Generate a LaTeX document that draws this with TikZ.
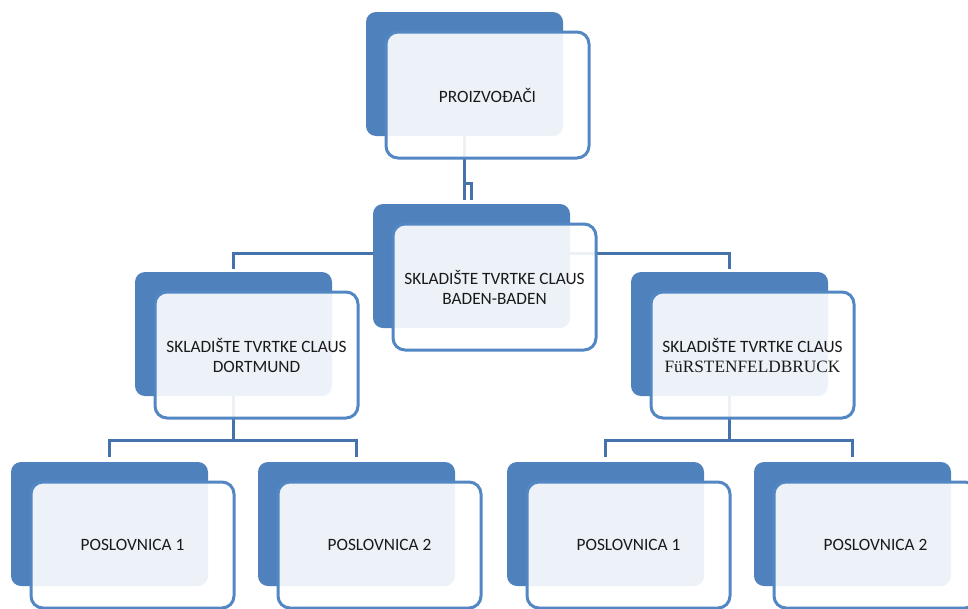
\documentclass[tikz,border=0pt]{standalone}
\usepackage{fontspec}
\setmainfont{Carlito}
\newfontfamily\serifpart{Liberation Serif}
\usetikzlibrary{calc}
\definecolor{backblue}{HTML}{4F81BD}
\definecolor{edgeblue}{HTML}{5287C4}
\definecolor{linkblue}{HTML}{4572AB}
\definecolor{txt}{HTML}{1A1A1A}
\pgfdeclarelayer{bg}
\pgfsetlayers{bg,main}
\tikzset{
  backbox/.style={fill=backblue, draw=none, rounded corners=10pt, minimum width=197pt, minimum height=124pt, inner sep=0pt, outer sep=0pt, anchor=north west},
  frontbox/.style={fill=white, fill opacity=0.9, text opacity=1, draw=edgeblue, line width=3pt, rounded corners=12pt, minimum width=203pt, minimum height=126pt, inner sep=0pt, outer sep=0pt, align=center, text=txt, font=\fontsize{17.3}{20}\selectfont, anchor=north west},
  link/.style={draw=linkblue, line width=3pt}
}
\newcommand\orgbox[4]{%
  \node[backbox] (#1back) at (#2,#3) {};
  \node[frontbox] (#1) at (#2+20,#3+20) {#4};
}
\begin{document}
\begin{tikzpicture}[x=1pt,y=-1pt]
\useasboundingbox (0,0) rectangle (968,608);
\orgbox{A}{366}{12}{PROIZVOĐAČI}
\orgbox{B}{373}{204}{SKLADIŠTE TVRTKE CLAUS\\BADEN-BADEN}
\orgbox{C}{135}{272}{SKLADIŠTE TVRTKE CLAUS\\DORTMUND}
\orgbox{D}{631}{272}{SKLADIŠTE TVRTKE CLAUS\\{\serifpart FüRSTENFELDBRUCK}}
\orgbox{E}{11}{462}{POSLOVNICA 1}
\orgbox{F}{258}{462}{POSLOVNICA 2}
\orgbox{G}{507}{462}{POSLOVNICA 1}
\orgbox{H}{754}{462}{POSLOVNICA 2}
\begin{pgfonlayer}{bg}
  % top connector
  \draw[link] (Aback.south) -- ($(Bback.north -| Aback.south)+(0,-4)$);
  \draw[link] ($(Aback.south)+(0,47)$) -| ($(Bback.north)+(0,-4)$);
  % level 2
  \draw[link] ($(Bback.north west)+(0,49)$) -| ($(Cback.north)+(0,-3)$);
  \draw[link] ($(Bback.north east)+(0,49)$) -| ($(Dback.north)+(0,-3)$);
  % level 3 left
  \coordinate (cx) at ($(Cback.south)+(0,44)$);
  \draw[link] (Cback.south) -- (cx);
  \draw[link] ($(Eback.north)+(0,-5)$) |- (cx) -| ($(Fback.north)+(0,-5)$);
  % level 3 right
  \coordinate (dx) at ($(Dback.south)+(0,44)$);
  \draw[link] (Dback.south) -- (dx);
  \draw[link] ($(Gback.north)+(0,-5)$) |- (dx) -| ($(Hback.north)+(0,-5)$);
\end{pgfonlayer}
\end{tikzpicture}
\end{document}
